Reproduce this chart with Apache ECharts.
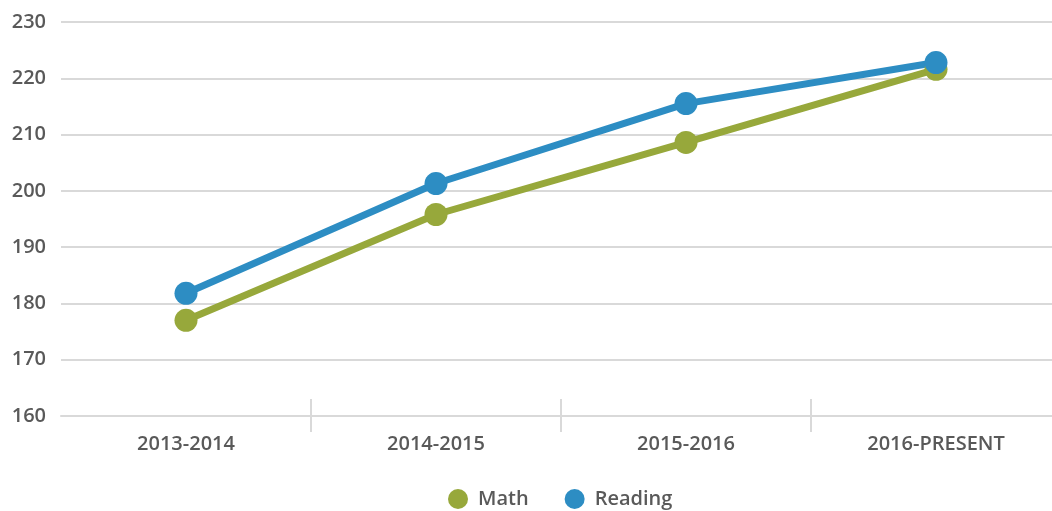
<!DOCTYPE html>
<html>
<head>
<meta charset="utf-8">
<script src="https://cdn.jsdelivr.net/npm/echarts@6/dist/echarts.min.js"></script>
<style>html,body{margin:0;padding:0;background:#fff}#c{width:1052px;height:511px}</style>
</head>
<body>
<div id="c"></div>
<script>
const categories = ['2013-2014', '2014-2015', '2015-2016', '2016-PRESENT'];
const mathValues = [177.0, 195.8, 208.6, 221.6];
const readingValues = [181.8, 201.3, 215.5, 222.8];
const yMin = 160, yMax = 230, yInterval = 10;

const textColor = '#595959';
const font = 'Open Sans';
const chart = echarts.init(document.getElementById('c'), null, {renderer: 'canvas'});
const tickFilter = function (idx) { return idx > 0; };
chart.setOption({
  animation: false,
  grid: {left: 61, width: 1000, top: 22, bottom: 95, containLabel: false, outerBoundsMode: 'none'},
  legend: {
    top: 484, left: 443, itemWidth: 20, itemHeight: 20, itemGap: 36,
    icon: 'circle',
    textStyle: {color: textColor, fontSize: 20, fontFamily: font, fontWeight: 600, padding: [0, 0, 0, 5]},
    data: ['Math', 'Reading']
  },
  xAxis: [{
    type: 'category', data: categories, boundaryGap: true,
    axisLine: {show: true, lineStyle: {color: '#d9d9d9', width: 2}},
    axisTick: {show: true, length: 16, interval: tickFilter, lineStyle: {color: '#d9d9d9', width: 2}},
    axisLabel: {color: textColor, fontSize: 20, fontFamily: font, fontWeight: 600, margin: 18, interval: 0}
  }, {
    type: 'category', data: categories, boundaryGap: true, position: 'bottom',
    axisLine: {show: false},
    axisTick: {show: true, inside: true, length: 17, interval: tickFilter, lineStyle: {color: '#d9d9d9', width: 2}},
    axisLabel: {show: false}
  }],
  yAxis: {
    type: 'value', min: yMin, max: yMax, interval: yInterval,
    axisLine: {show: false}, axisTick: {show: false},
    axisLabel: {color: textColor, fontSize: 20, fontFamily: font, fontWeight: 600, margin: 15},
    splitLine: {lineStyle: {color: '#d9d9d9', width: 2}}
  },
  series: [{
    name: 'Math', type: 'line', data: mathValues,
    symbol: 'circle', symbolSize: 23,
    itemStyle: {color: '#97a83b'},
    lineStyle: {color: '#97a83b', width: 7}
  }, {
    name: 'Reading', type: 'line', data: readingValues,
    symbol: 'circle', symbolSize: 23,
    itemStyle: {color: '#2d8dc3'},
    lineStyle: {color: '#2d8dc3', width: 7}
  }]
});
</script>
</body>
</html>
